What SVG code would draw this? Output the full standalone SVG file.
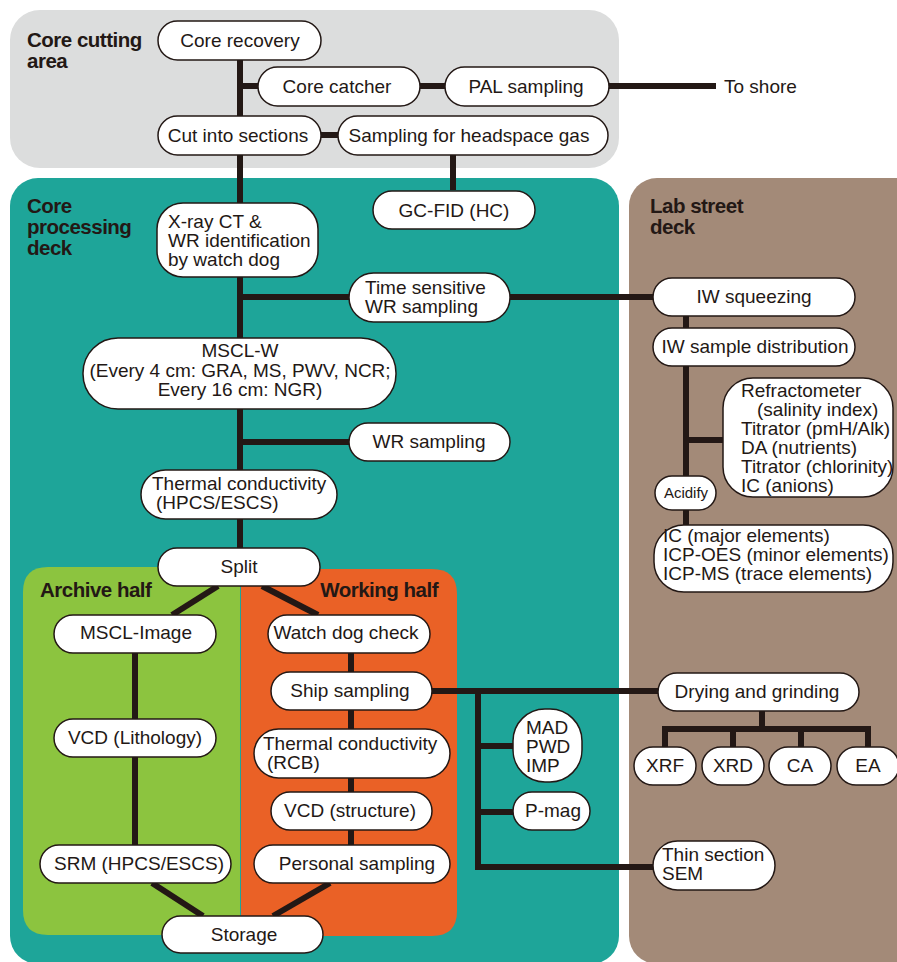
<svg xmlns="http://www.w3.org/2000/svg" width="897" height="962" viewBox="0 0 897 962">
<style>
.node rect{fill:#fff;stroke:#231815;stroke-width:1.5}
text{font-family:"Liberation Sans",Arial,Helvetica,sans-serif;font-size:19px;fill:#231815}
.c{text-anchor:middle}
.title{font-weight:bold;font-size:20.5px;letter-spacing:-0.5px}
.small{font-size:15px}
#connectors path{stroke:#231815;stroke-width:6;fill:none}
</style>
<rect width="897" height="962" fill="#fff"/>
<g id="regions">
<rect x="10" y="10" width="609" height="158" rx="30" fill="#dcdddd"/>
<rect x="10" y="178" width="609" height="786" rx="28" fill="#1ea599"/>
<rect x="629" y="178" width="300" height="786" rx="28" fill="#a38a78"/>
<path d="M48 567 H240 V935 H48 Q23 935 23 910 V592 Q23 567 48 567 Z" fill="#8cc43f"/>
<path d="M241 569 H432 Q457 569 457 594 V911 Q457 936 432 936 H241 Z" fill="#ea6126"/>
<text class="title" x="27" y="47">Core cutting</text>
<text class="title" x="27" y="68">area</text>
<text class="title" x="27" y="213">Core</text>
<text class="title" x="27" y="234">processing</text>
<text class="title" x="27" y="255">deck</text>
<text class="title" x="650" y="213">Lab street</text>
<text class="title" x="650" y="234">deck</text>
<text class="title" x="40" y="597">Archive half</text>
<text class="title" x="438" y="597" text-anchor="end">Working half</text>
<text x="724" y="93">To shore</text>
</g>
<g id="connectors">
<path d="M240 60 V548"/>
<path d="M240 86 H258"/>
<path d="M420 86 H445"/>
<path d="M608 86 H716"/>
<path d="M321 135 H338"/>
<path d="M453 154 V190"/>
<path d="M240 297 H349"/>
<path d="M510 297 H653"/>
<path d="M240 442 H349"/>
<path d="M686 316 V525"/>
<path d="M686 440 H723"/>
<path d="M218 586 L172 615"/>
<path d="M262 586 L318 615"/>
<path d="M135 653 V845"/>
<path d="M351 653 V845"/>
<path d="M152 883 L203 916"/>
<path d="M330 883 L273 916"/>
<path d="M432 691 H658"/>
<path d="M478 691 V867 H653"/>
<path d="M478 746 H513"/>
<path d="M478 812 H513"/>
<path d="M762 711 V729"/>
<path d="M665 747 V729 H868 V747"/>
<path d="M733 729 V747"/>
<path d="M801 729 V747"/>
</g>
<g id="core-recovery" class="node"><rect x="158" y="21" width="163" height="39" rx="19.5"/><text class="c" x="240" y="47">Core recovery</text></g>
<g id="core-catcher" class="node"><rect x="258" y="67" width="162" height="39" rx="19.5"/><text class="c" x="337" y="93">Core catcher</text></g>
<g id="pal-sampling" class="node"><rect x="445" y="67" width="164" height="39" rx="19.5"/><text class="c" x="526" y="93">PAL sampling</text></g>
<g id="cut-sections" class="node"><rect x="158" y="116" width="163" height="39" rx="19.5"/><text class="c" x="238" y="142">Cut into sections</text></g>
<g id="headspace" class="node"><rect x="338" y="116" width="270" height="39" rx="19.5"/><text class="c" x="469" y="142">Sampling for headspace gas</text></g>
<g id="gc-fid" class="node"><rect x="373" y="191" width="162" height="38" rx="19"/><text class="c" x="454" y="217">GC-FID (HC)</text></g>
<g id="xray-ct" class="node"><rect x="157" y="203" width="161" height="74" rx="26"/><text x="168" y="228">X-ray CT &amp;</text><text x="168" y="247">WR identification</text><text x="168" y="266">by watch dog</text></g>
<g id="time-sensitive" class="node"><rect x="349" y="273" width="161" height="49" rx="24.5"/><text x="365" y="294">Time sensitive</text><text x="365" y="313">WR sampling</text></g>
<g id="mscl-w" class="node"><rect x="83" y="338" width="313" height="71" rx="35"/><text class="c" x="240" y="357">MSCL-W</text><text class="c" x="240" y="377">(Every 4 cm: GRA, MS, PWV, NCR;</text><text class="c" x="240" y="396">Every 16 cm: NGR)</text></g>
<g id="wr-sampling" class="node"><rect x="349" y="423" width="161" height="38" rx="19"/><text class="c" x="429" y="448">WR sampling</text></g>
<g id="thermal-hpcs" class="node"><rect x="141" y="470" width="196" height="49" rx="24.5"/><text x="152" y="490">Thermal conductivity</text><text x="156" y="509">(HPCS/ESCS)</text></g>
<g id="split" class="node"><rect x="158" y="548" width="162" height="38" rx="19"/><text class="c" x="239" y="573">Split</text></g>
<g id="iw-squeezing" class="node"><rect x="653" y="278" width="202" height="38" rx="19"/><text class="c" x="754" y="303">IW squeezing</text></g>
<g id="iw-distribution" class="node"><rect x="653" y="328" width="202" height="38" rx="19"/><text class="c" x="755" y="353">IW sample distribution</text></g>
<g id="refractometer" class="node"><rect x="723" y="378" width="170" height="119" rx="30"/><text x="741" y="397">Refractometer</text><text x="757" y="416">(salinity index)</text><text x="741" y="435">Titrator (pmH/Alk)</text><text x="741" y="454">DA (nutrients)</text><text x="741" y="473">Titrator (chlorinity)</text><text x="741" y="492">IC (anions)</text></g>
<g id="acidify" class="node"><rect x="655" y="476" width="61" height="34" rx="17"/><text class="c small" x="686" y="498">Acidify</text></g>
<g id="ic-major" class="node"><rect x="654" y="525" width="239" height="67" rx="30"/><text x="663" y="542">IC (major elements)</text><text x="663" y="561">ICP-OES (minor elements)</text><text x="663" y="580">ICP-MS (trace elements)</text></g>
<g id="mscl-image" class="node"><rect x="54" y="615" width="162" height="38" rx="19"/><text class="c" x="136" y="639">MSCL-Image</text></g>
<g id="vcd-lithology" class="node"><rect x="54" y="719" width="162" height="38" rx="19"/><text class="c" x="135" y="744">VCD (Lithology)</text></g>
<g id="srm" class="node"><rect x="40" y="845" width="191" height="38" rx="19"/><text class="c" x="139" y="870">SRM (HPCS/ESCS)</text></g>
<g id="watch-dog" class="node"><rect x="268" y="615" width="162" height="38" rx="19"/><text class="c" x="346" y="639">Watch dog check</text></g>
<g id="ship-sampling" class="node"><rect x="271" y="672" width="161" height="38" rx="19"/><text class="c" x="350" y="697">Ship sampling</text></g>
<g id="thermal-rcb" class="node"><rect x="254" y="729" width="196" height="49" rx="24.5"/><text x="263" y="750">Thermal conductivity</text><text x="267" y="769">(RCB)</text></g>
<g id="vcd-structure" class="node"><rect x="271" y="792" width="161" height="38" rx="19"/><text class="c" x="350" y="817">VCD (structure)</text></g>
<g id="personal-sampling" class="node"><rect x="254" y="845" width="196" height="38" rx="19"/><text class="c" x="357" y="870">Personal sampling</text></g>
<g id="storage" class="node"><rect x="162" y="916" width="161" height="37" rx="18.5"/><text class="c" x="244" y="941">Storage</text></g>
<g id="mad-pwd-imp" class="node"><rect x="513" y="709" width="69" height="73" rx="32"/><text x="526" y="734">MAD</text><text x="526" y="753">PWD</text><text x="526" y="772">IMP</text></g>
<g id="p-mag" class="node"><rect x="513" y="792" width="77" height="38" rx="19"/><text x="525" y="817">P-mag</text></g>
<g id="drying" class="node"><rect x="658" y="673" width="201" height="38" rx="19"/><text class="c" x="757" y="698">Drying and grinding</text></g>
<g id="xrf" class="node"><rect x="634" y="747" width="62" height="38" rx="19"/><text class="c" x="665" y="772">XRF</text></g>
<g id="xrd" class="node"><rect x="702" y="747" width="62" height="38" rx="19"/><text class="c" x="733" y="772">XRD</text></g>
<g id="ca" class="node"><rect x="769" y="747" width="62" height="38" rx="19"/><text class="c" x="800" y="772">CA</text></g>
<g id="ea" class="node"><rect x="837" y="747" width="62" height="38" rx="19"/><text class="c" x="868" y="772">EA</text></g>
<g id="thin-section" class="node"><rect x="653" y="841" width="122" height="49" rx="24.5"/><text x="662" y="861">Thin section</text><text x="662" y="880">SEM</text></g>
</svg>
